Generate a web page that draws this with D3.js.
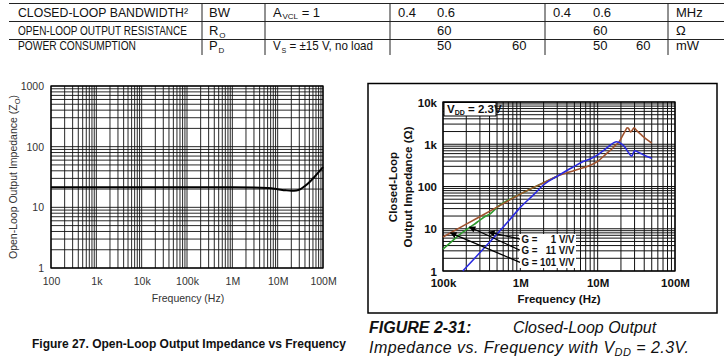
<!DOCTYPE html>
<html><head><meta charset="utf-8">
<script src="https://cdn.jsdelivr.net/npm/d3@7"></script>
<style>
body{margin:0;background:#fff;}
svg{display:block;}
.tbl{font-family:"Liberation Sans",Arial,sans-serif;font-size:13px;fill:#111;}
.lt{font-family:"Liberation Sans",Arial,sans-serif;font-size:10.5px;fill:#333;}
.rt{font-family:"Liberation Sans",Arial,sans-serif;font-size:11.5px;font-weight:bold;fill:#111;}
</style></head>
<body><div id="chart"></div>
<script>
// ---------- table data ----------
const tableRows = [
  ["CLOSED-LOOP BANDWIDTH²", "BW", "A|VCL| = 1", "0.4", "0.6", "", "0.4", "0.6", "", "MHz"],
  ["OPEN-LOOP OUTPUT RESISTANCE", "R|O|", "", "", "60", "", "", "60", "", "Ω"],
  ["POWER CONSUMPTION", "P|D|", "V|S| = ±15 V, no load", "", "50", "60", "", "50", "60", "mW"]
];

// ---------- left chart data (open-loop output impedance) ----------
const leftFreq = [100, 1e3, 1e4, 1e5, 1e6, 3e6, 6e6, 1e7, 1.5e7, 2e7, 2.6e7, 3.2e7, 4e7, 5e7, 6.3e7, 8e7, 1e8];
const leftZ    = [21.4, 21.4, 21.4, 21.4, 21.4, 21.3, 20.8, 19.9, 19.1, 18.8, 19.0, 20.0, 22.5, 26, 31, 38, 46];
const leftXTicks = [100, 1e3, 1e4, 1e5, 1e6, 1e7, 1e8];
const leftXLabels = ["100", "1k", "10k", "100k", "1M", "10M", "100M"];
const leftYTicks = [1, 10, 100, 1000];
const leftYLabels = ["1", "10", "100", "1000"];

// ---------- right chart data (closed-loop output impedance) ----------
const g1Freq = [1.8e5, 2.5e5, 3.5e5, 5e5, 7e5, 1e6, 1.5e6, 2e6, 3e6, 4e6, 5e6, 6.5e6, 8e6, 1e7, 1.2e7, 1.4e7, 1.6e7, 1.75e7, 1.9e7, 2.2e7, 2.5e7, 2.75e7, 3e7, 3.5e7, 4.2e7, 5e7];
const g1Z    = [1, 1.9, 3.7, 7.5, 15, 32, 65, 110, 175, 240, 300, 390, 450, 560, 720, 900, 1080, 1150, 1100, 900, 640, 520, 700, 620, 530, 465];
const g11Freq = [1e5, 1.3e5, 1.6e5, 2e5, 2.5e5, 3e5, 3.5e5, 4e5, 5e5, 1e6, 2e6, 3e6];
const g11Z    = [3.3, 5, 7, 9.5, 12.5, 16, 19.5, 22, 32, 66, 123, 175];
const g101Freq = [1e5, 2e5, 5e5, 1e6, 2e6, 3e6, 5e6, 8e6, 1e7, 1.3e7, 1.5e7, 1.7e7, 1.9e7, 2.1e7, 2.3e7, 2.4e7, 2.5e7, 2.65e7, 2.8e7, 2.95e7, 3.2e7, 3.7e7, 4.3e7, 5e7];
const g101Z    = [6.4, 12.9, 32.5, 66, 123, 175, 240, 317, 394, 600, 750, 950, 1150, 1600, 2150, 2450, 2400, 1950, 2150, 2450, 2100, 1650, 1300, 1070];
const rightXTicks = [1e5, 1e6, 1e7, 1e8];
const rightXLabels = ["100k", "1M", "10M", "100M"];
const rightYTicks = [1, 10, 100, 1e3, 1e4];
const rightYLabels = ["1", "10", "100", "1k", "10k"];
const seriesNames = ["G =     1 V/V", "G =   11 V/V", "G = 101 V/V"];
const seriesColors = ["#2a2ae0", "#2e9a2e", "#a0522d"];
// annotation arrow tips (freq, Z) and tails (freq, Z)
const annTipF = [3.9e5, 2.2e5, 1.25e5];
const annTipZ = [8.3, 11, 8.0];
const annTailF = [9.9e5, 9.9e5, 9.9e5];
const annTailZ = [5.7, 3.1, 1.6];

const svg = d3.select("#chart").append("svg").attr("width", 724).attr("height", 360);

// helper: text with |sub| markup
function richText(sel, str, subSize) {
  const parts = str.split("|");
  parts.forEach((p, i) => {
    if (!p) return;
    const t = sel.append("tspan").text(p);
    if (i % 2 === 1) t.attr("font-size", subSize).attr("dy", 2.5).attr("dx", 0.8);
    else if (i > 0) t.attr("dy", -2.5);
  });
}

// ---------- table ----------
const colX = [18, 209, 273, 398, 437, 512, 553, 593, 636, 676];
const rowY = [16.5, 35, 50];
const firstColW = [170, 169, 118];
const tbl = svg.append("g").attr("class", "tbl");
[3.5, 21.5, 39.5].forEach(y => tbl.append("line").attr("x1", 9).attr("x2", 724).attr("y1", y).attr("y2", y).attr("stroke", "#222").attr("stroke-width", 1));
[202, 265, 390, 545, 668].forEach(x => tbl.append("line").attr("x1", x).attr("x2", x).attr("y1", 3.5).attr("y2", 55).attr("stroke", "#222").attr("stroke-width", 1));
tableRows.forEach((row, ri) => {
  row.forEach((cell, ci) => {
    if (!cell) return;
    const t = tbl.append("text").attr("x", colX[ci]).attr("y", rowY[ri]);
    richText(t, cell, 8);
    if (ci === 0) t.attr("textLength", firstColW[ri]).attr("lengthAdjust", "spacingAndGlyphs");
    if (ci === 2 && ri === 2) t.attr("textLength", 100).attr("lengthAdjust", "spacingAndGlyphs");
  });
});

// ---------- left chart ----------
const xL = d3.scaleLog().domain([100, 1e8]).range([51, 323]);
const yL = d3.scaleLog().domain([1, 1000]).range([268, 86]);
const gl = svg.append("g");
function minorVals(lo, hi) {
  const v = [];
  for (let d = lo; d < hi; d *= 10) for (let m = 1; m < 10; m++) v.push(d * m);
  v.push(hi);
  return v;
}
minorVals(100, 1e8).forEach(f => gl.append("line").attr("x1", xL(f)).attr("x2", xL(f)).attr("y1", 86).attr("y2", 268).attr("stroke", "#111").attr("stroke-width", 0.9));
minorVals(1, 1000).forEach(z => gl.append("line").attr("y1", yL(z)).attr("y2", yL(z)).attr("x1", 51).attr("x2", 323).attr("stroke", "#111").attr("stroke-width", 0.9));
gl.append("rect").attr("x", 51).attr("y", 86).attr("width", 272).attr("height", 182).attr("fill", "none").attr("stroke", "#000").attr("stroke-width", 1.3);
gl.append("path").datum(leftFreq.map((f, i) => [f, leftZ[i]]))
  .attr("d", d3.line().x(d => xL(d[0])).y(d => yL(d[1])).curve(d3.curveMonotoneX))
  .attr("fill", "none").attr("stroke", "#000").attr("stroke-width", 2);
const lax = gl.append("g").attr("transform", "translate(0,268)")
  .call(d3.axisBottom(xL).tickValues(leftXTicks).tickFormat((d, i) => leftXLabels[i]).tickSize(0).tickPadding(10));
const lay = gl.append("g").attr("transform", "translate(51,0)")
  .call(d3.axisLeft(yL).tickValues(leftYTicks).tickFormat((d, i) => leftYLabels[i]).tickSize(0).tickPadding(7));
[lax, lay].forEach(a => { a.select(".domain").remove(); a.selectAll("text").attr("class", "lt").attr("fill", "#333"); });
lay.selectAll("text").attr("dy", "0.32em");
gl.append("text").attr("class", "lt").attr("x", 188).attr("y", 302).attr("text-anchor", "middle").text("Frequency (Hz)");
const lyt = gl.append("text").attr("class", "lt").attr("text-anchor", "middle").attr("font-size", 11).attr("transform", "translate(17,177) rotate(-90)");
lyt.append("tspan").text("Open-Loop Output Impedance (Z");
lyt.append("tspan").text("O").attr("font-size", 7.5).attr("dy", 3);
lyt.append("tspan").text(")").attr("dy", -3);

// ---------- right chart ----------
const xR = d3.scaleLog().domain([1e5, 1e8]).range([443, 675]);
const yR = d3.scaleLog().domain([1, 1e4]).range([271, 102]);
const gr = svg.append("g");
gr.append("rect").attr("x", 368).attr("y", 83.5).attr("width", 349).attr("height", 229.5).attr("fill", "none").attr("stroke", "#000").attr("stroke-width", 1.5);
minorVals(1e5, 1e8).forEach(f => gr.append("line").attr("x1", xR(f)).attr("x2", xR(f)).attr("y1", 102).attr("y2", 271).attr("stroke", "#111").attr("stroke-width", 1));
minorVals(1, 1e4).forEach(z => gr.append("line").attr("y1", yR(z)).attr("y2", yR(z)).attr("x1", 443).attr("x2", 675).attr("stroke", "#111").attr("stroke-width", 1));
gr.append("rect").attr("x", 443).attr("y", 102).attr("width", 232).attr("height", 169).attr("fill", "none").attr("stroke", "#000").attr("stroke-width", 1.3);
const lineR = d3.line().x(d => xR(d[0])).y(d => yR(d[1])).curve(d3.curveMonotoneX);
const series = [
  { f: g11Freq, z: g11Z, c: seriesColors[1] },
  { f: g101Freq, z: g101Z, c: seriesColors[2] },
  { f: g1Freq, z: g1Z, c: seriesColors[0] }
];
series.forEach(s => gr.append("path").datum(s.f.map((f, i) => [f, s.z[i]])).attr("d", lineR)
  .attr("fill", "none").attr("stroke", s.c).attr("stroke-width", 1.6));
const rax = gr.append("g").attr("transform", "translate(0,271)")
  .call(d3.axisBottom(xR).tickValues(rightXTicks).tickFormat((d, i) => rightXLabels[i]).tickSize(0).tickPadding(8));
const ray = gr.append("g").attr("transform", "translate(443,0)")
  .call(d3.axisLeft(yR).tickValues(rightYTicks).tickFormat((d, i) => rightYLabels[i]).tickSize(0).tickPadding(6));
[rax, ray].forEach(a => { a.select(".domain").remove(); a.selectAll("text").attr("class", "rt").attr("fill", "#111"); });
ray.selectAll("text").attr("dy", "0.35em");
gr.append("text").attr("class", "rt").attr("x", 559).attr("y", 303).attr("text-anchor", "middle").attr("font-size", 12).text("Frequency (Hz)");
const ryt = gr.append("text").attr("class", "rt").attr("text-anchor", "middle").attr("transform", "translate(397,187) rotate(-90)").attr("font-size", 12);
ryt.append("tspan").attr("x", 0).attr("dy", 0).text("Closed-Loop");
ryt.append("tspan").attr("x", 0).attr("dy", 15).text("Output Impedance (Ω)");
// V_DD legend box
gr.append("rect").attr("x", 444).attr("y", 102.5).attr("width", 52).attr("height", 13.5).attr("fill", "#fff").attr("stroke", "#000").attr("stroke-width", 1);
const vdd = gr.append("text").attr("class", "rt").attr("x", 447).attr("y", 112.5).attr("font-size", 10);
vdd.append("tspan").text("V");
vdd.append("tspan").text("DD").attr("font-size", 7).attr("dy", 2);
vdd.append("tspan").text(" = 2.3V").attr("dy", -2);
// series annotation
gr.append("rect").attr("x", 519).attr("y", 234).attr("width", 57).attr("height", 34).attr("fill", "#fff");
const defs = svg.append("defs");
defs.append("marker").attr("id", "ah").attr("viewBox", "0 0 10 10").attr("refX", 9).attr("refY", 5)
  .attr("markerWidth", 5).attr("markerHeight", 5).attr("orient", "auto")
  .append("path").attr("d", "M0,0L10,5L0,10z").attr("fill", "#000");
seriesNames.forEach((name, i) => {
  gr.append("line").attr("x1", xR(annTailF[i])).attr("y1", yR(annTailZ[i]))
    .attr("x2", xR(annTipF[i])).attr("y2", yR(annTipZ[i]))
    .attr("stroke", "#000").attr("stroke-width", 1.3).attr("marker-end", "url(#ah)");
  gr.append("text").attr("class", "rt").attr("x", xR(annTailF[i]) + 1.5).attr("y", yR(annTailZ[i]) + 3.5)
    .attr("font-size", 9).attr("textLength", 53).attr("lengthAdjust", "spacingAndGlyphs")
    .style("white-space", "pre").text(name);
});

// ---------- captions ----------
svg.append("text").attr("x", 189).attr("y", 348).attr("text-anchor", "middle")
  .attr("font-family", "'Liberation Sans',Arial,sans-serif")
  .attr("font-weight", "bold").attr("font-size", 12).attr("fill", "#111")
  .attr("textLength", 314).attr("lengthAdjust", "spacingAndGlyphs")
  .text("Figure 27. Open-Loop Output Impedance vs Frequency");
const capF = "'Liberation Sans',Arial,sans-serif";
svg.append("text").attr("x", 369).attr("y", 333).attr("font-family", capF).attr("font-style", "italic")
  .attr("font-weight", "bold").attr("font-size", 16).attr("fill", "#111").text("FIGURE 2-31:");
svg.append("text").attr("x", 513).attr("y", 333).attr("font-family", capF).attr("font-style", "italic")
  .attr("font-size", 16).attr("fill", "#111").text("Closed-Loop Output");
const cap2 = svg.append("text").attr("x", 369).attr("y", 353).attr("font-family", capF).attr("font-style", "italic")
  .attr("font-size", 16).attr("letter-spacing", 0.45).attr("fill", "#111");
cap2.append("tspan").text("Impedance vs. Frequency with V");
cap2.append("tspan").text("DD").attr("font-size", 11).attr("dy", 3);
cap2.append("tspan").text(" = 2.3V.").attr("dy", -3);
</script></body></html>
